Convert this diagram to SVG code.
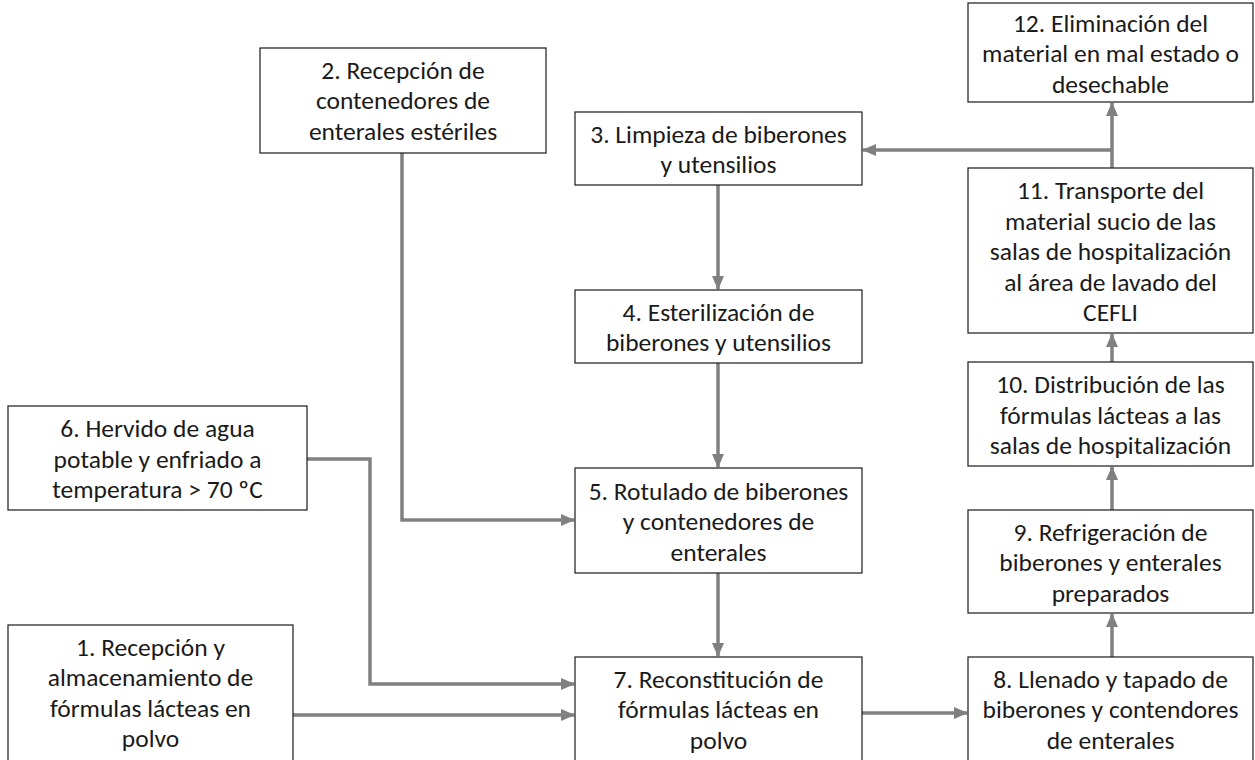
<svg xmlns="http://www.w3.org/2000/svg" width="1255" height="760" viewBox="0 0 1255 760">
<defs>
<marker id="ah" markerUnits="userSpaceOnUse" markerWidth="14" markerHeight="12" viewBox="0 0 14 12" refX="13" refY="6" orient="auto">
<path d="M0,0 L14,6 L0,12 Z" fill="#808080"/>
</marker>
<style>
.box{fill:#ffffff;stroke:#1a1a1a;stroke-width:1.2}
.t{font-family:Carlito,Lato,"Liberation Sans",sans-serif;font-size:25.5px;fill:#1a1a1a;text-anchor:middle}
.c{fill:none;stroke:#808080;stroke-width:3.5;marker-end:url(#ah)}
</style>
</defs>
<rect width="1255" height="760" fill="#ffffff"/>
<g id="connectors">
<path class="c" d="M402,153 V520 H574"/>
<path class="c" d="M718,185 V289"/>
<path class="c" d="M718,363 V467"/>
<path class="c" d="M718,573 V656"/>
<path class="c" d="M307,459 H370 V684 H574"/>
<path class="c" d="M293,715 H574"/>
<path class="c" d="M862,713 H967"/>
<path class="c" d="M1112,657 V614"/>
<path class="c" d="M1112,510 V467"/>
<path class="c" d="M1112,362 V334"/>
<path class="c" d="M1112,168 V103"/>
<path class="c" d="M1112,150 H863"/>
</g>
<g id="n2">
<rect class="box" x="260" y="48" width="286" height="105"/>
<text class="t" x="403" y="78.5">2. Recepción de</text>
<text class="t" x="403" y="109">contenedores de</text>
<text class="t" x="403" y="139.5">enterales estériles</text>
</g>
<g id="n3">
<rect class="box" x="575" y="112" width="287" height="73"/>
<text class="t" x="718.5" y="142.5">3. Limpieza de biberones</text>
<text class="t" x="718.5" y="173">y utensilios</text>
</g>
<g id="n4">
<rect class="box" x="575" y="290" width="287" height="73"/>
<text class="t" x="718.5" y="320.5">4. Esterilización de</text>
<text class="t" x="718.5" y="351">biberones y utensilios</text>
</g>
<g id="n5">
<rect class="box" x="575" y="468" width="287" height="105"/>
<text class="t" x="718.5" y="499.5">5. Rotulado de biberones</text>
<text class="t" x="718.5" y="530">y contenedores de</text>
<text class="t" x="718.5" y="560.5">enterales</text>
</g>
<g id="n6">
<rect class="box" x="8" y="406" width="299" height="104"/>
<text class="t" x="157.5" y="437">6. Hervido de agua</text>
<text class="t" x="157.5" y="467.5">potable y enfriado a</text>
<text class="t" x="157.5" y="498">temperatura &gt; 70 ºC</text>
</g>
<g id="n1">
<rect class="box" x="8" y="625" width="285" height="150"/>
<text class="t" x="150.5" y="655.5">1. Recepción y</text>
<text class="t" x="150.5" y="686">almacenamiento de</text>
<text class="t" x="150.5" y="716.5">fórmulas lácteas en</text>
<text class="t" x="150.5" y="747">polvo</text>
</g>
<g id="n7">
<rect class="box" x="575" y="657" width="287" height="115"/>
<text class="t" x="718.5" y="687.5">7. Reconstitución de</text>
<text class="t" x="718.5" y="718">fórmulas lácteas en</text>
<text class="t" x="718.5" y="748.5">polvo</text>
</g>
<g id="n8">
<rect class="box" x="968" y="657" width="285" height="115"/>
<text class="t" x="1110.5" y="687.5">8. Llenado y tapado de</text>
<text class="t" x="1110.5" y="718">biberones y contendores</text>
<text class="t" x="1110.5" y="748.5">de enterales</text>
</g>
<g id="n9">
<rect class="box" x="968" y="510" width="285" height="103"/>
<text class="t" x="1110.5" y="540.5">9. Refrigeración de</text>
<text class="t" x="1110.5" y="571">biberones y enterales</text>
<text class="t" x="1110.5" y="601.5">preparados</text>
</g>
<g id="n10">
<rect class="box" x="968" y="362" width="285" height="104"/>
<text class="t" x="1110.5" y="393">10. Distribución de las</text>
<text class="t" x="1110.5" y="423.5">fórmulas lácteas a las</text>
<text class="t" x="1110.5" y="454">salas de hospitalización</text>
</g>
<g id="n11">
<rect class="box" x="968" y="168" width="285" height="165"/>
<text class="t" x="1110.5" y="199">11. Transporte del</text>
<text class="t" x="1110.5" y="229.5">material sucio de las</text>
<text class="t" x="1110.5" y="260">salas de hospitalización</text>
<text class="t" x="1110.5" y="290.5">al área de lavado del</text>
<text class="t" x="1110.5" y="321">CEFLI</text>
</g>
<g id="n12">
<rect class="box" x="968" y="3" width="285" height="99"/>
<text class="t" x="1110.5" y="31.5">12. Eliminación del</text>
<text class="t" x="1110.5" y="62">material en mal estado o</text>
<text class="t" x="1110.5" y="92.5">desechable</text>
</g>
</svg>
